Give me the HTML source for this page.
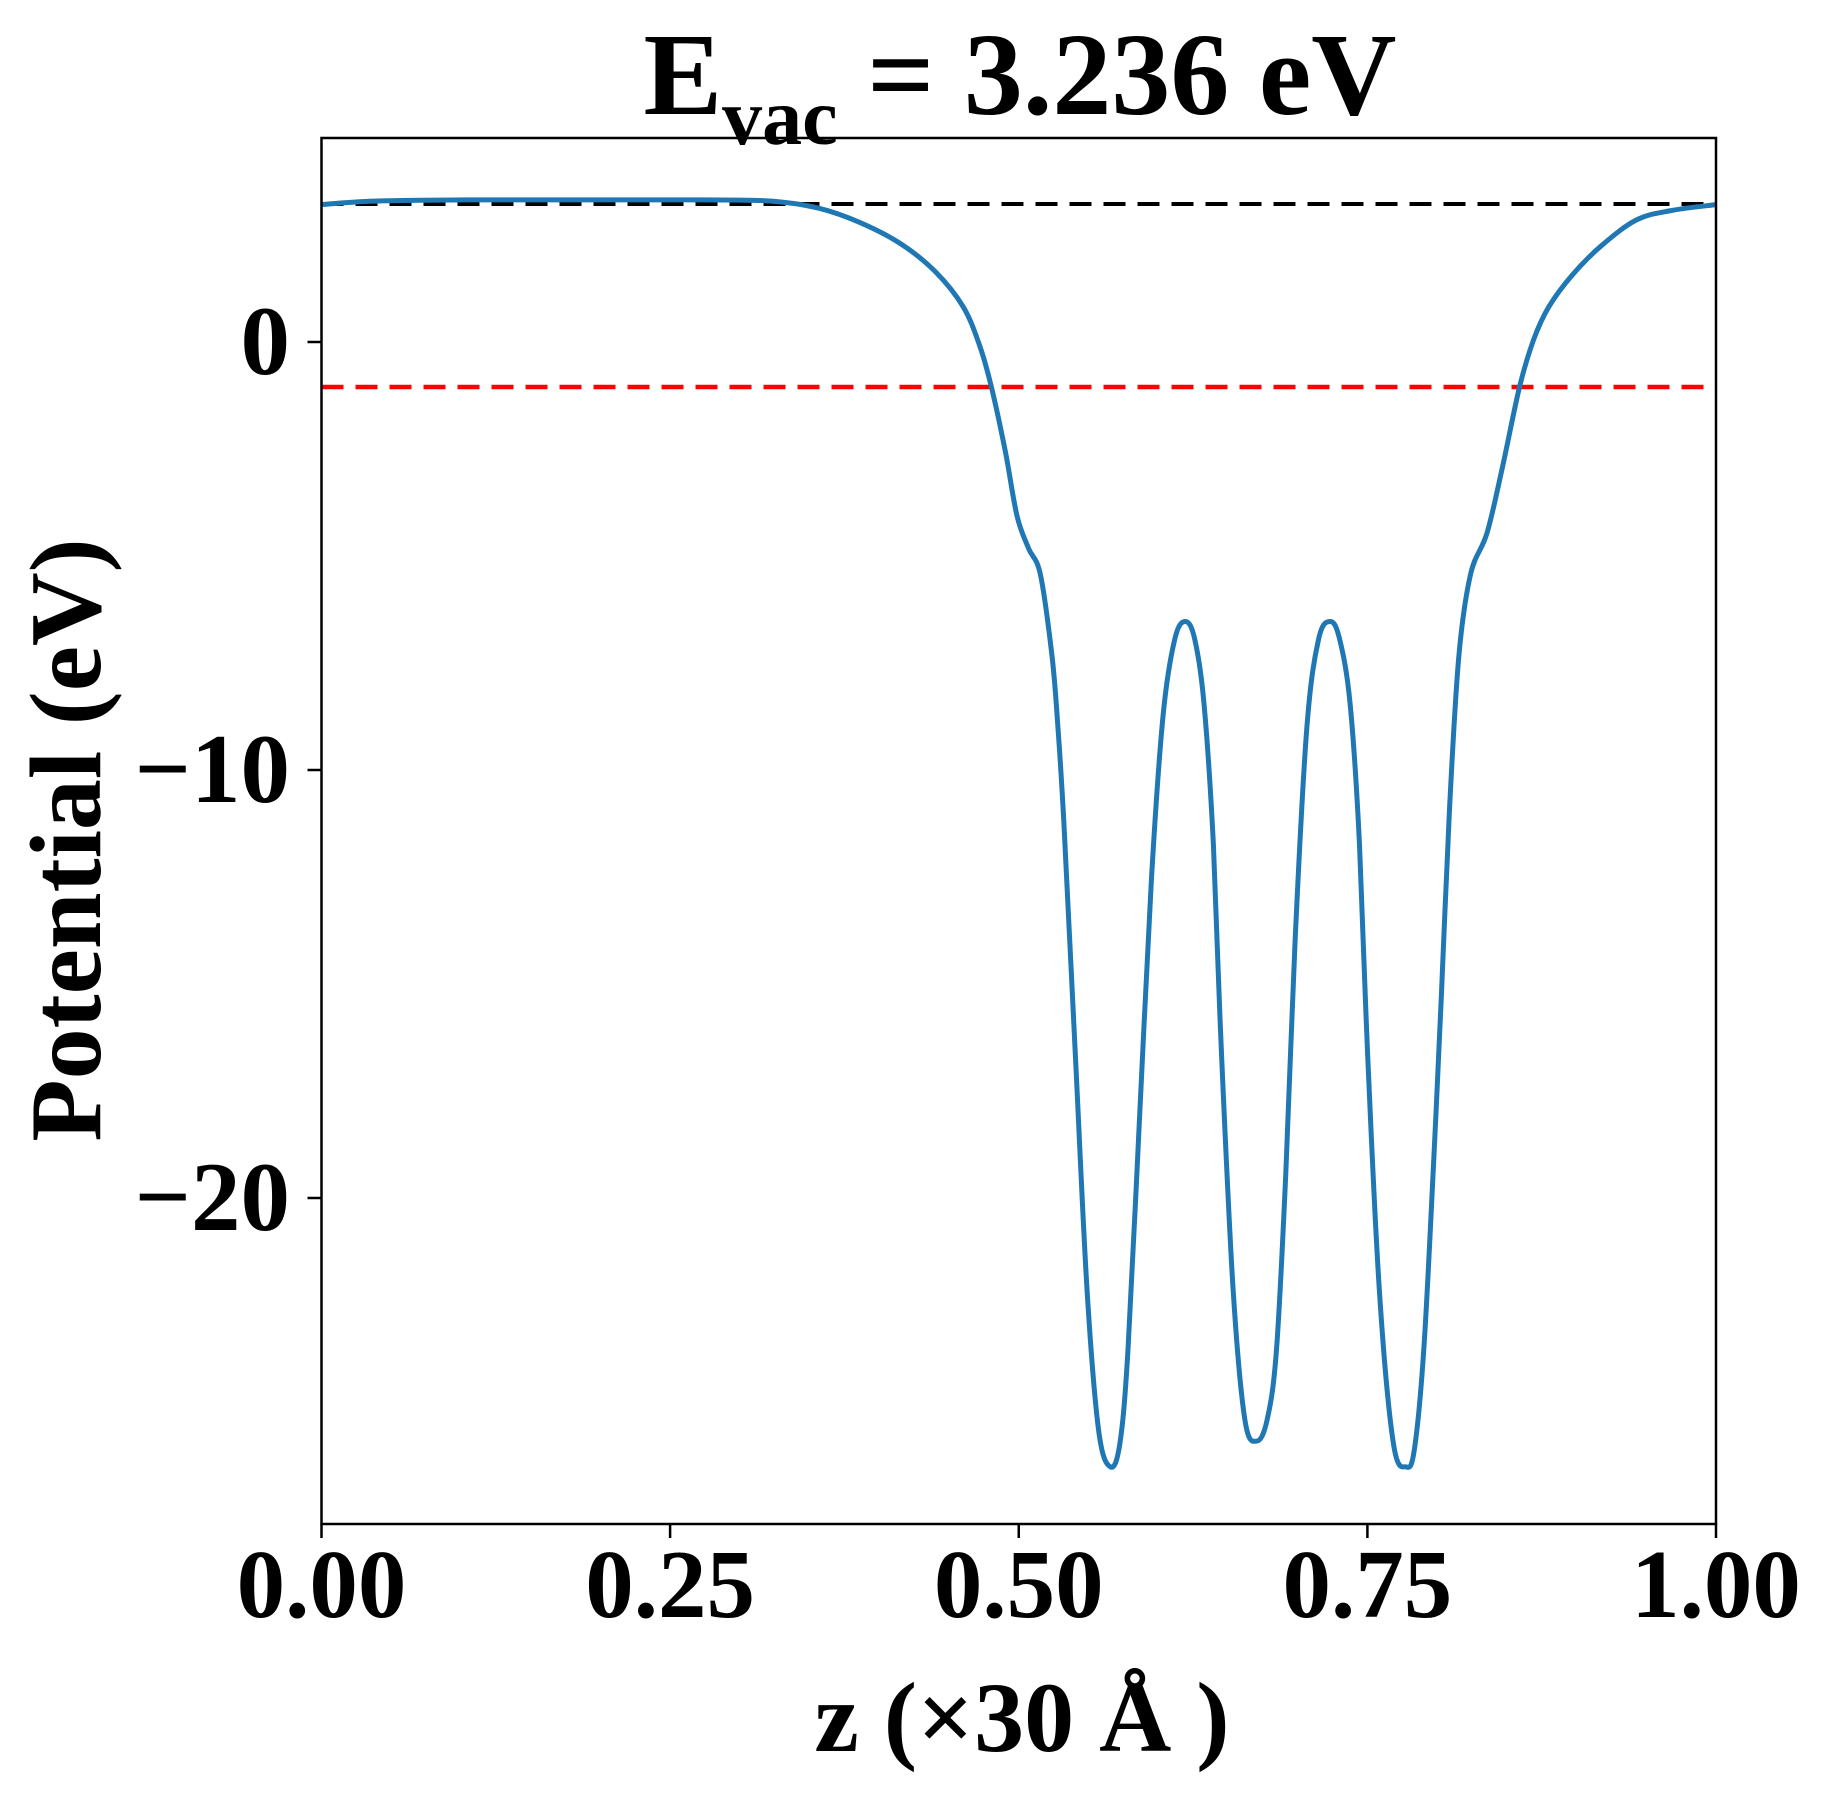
<!DOCTYPE html>
<html><head><meta charset="utf-8"><style>
html,body{margin:0;padding:0;background:#fff}
svg{display:block}
text{font-family:"Liberation Serif","Times New Roman",serif;font-weight:bold;fill:#000}
</style></head><body>
<svg id="s" width="1833" height="1794" viewBox="0 0 1833 1794" xmlns="http://www.w3.org/2000/svg">
<rect width="1833" height="1794" fill="#fff"/>
<line x1="321.5" y1="204" x2="1716" y2="204" stroke="#000" stroke-width="4" stroke-dasharray="22,12"/>
<line x1="321.5" y1="387" x2="1716" y2="387" stroke="#f00" stroke-width="4.5" stroke-dasharray="22,12"/>
<path id="curve" d="" fill="none" stroke="#1f77b4" stroke-width="5"/>
<rect x="321.5" y="138" width="1394.5" height="1386" fill="none" stroke="#000" stroke-width="2.5"/>
<g stroke="#000" stroke-width="2.5">
<line x1="321.5" y1="1524" x2="321.5" y2="1538"/>
<line x1="670.1" y1="1524" x2="670.1" y2="1538"/>
<line x1="1018.75" y1="1524" x2="1018.75" y2="1538"/>
<line x1="1367.4" y1="1524" x2="1367.4" y2="1538"/>
<line x1="1716" y1="1524" x2="1716" y2="1538"/>
<line x1="307.5" y1="342" x2="321.5" y2="342"/>
<line x1="307.5" y1="770" x2="321.5" y2="770"/>
<line x1="307.5" y1="1198" x2="321.5" y2="1198"/>
</g>
<g font-size="97" text-anchor="middle" font-family="Liberation Serif" font-weight="bold">
<text x="321.5" y="1617">0.00</text>
<text x="670.1" y="1617">0.25</text>
<text x="1018.75" y="1617">0.50</text>
<text x="1367.4" y="1617">0.75</text>
<text x="1716" y="1617">1.00</text>
</g>
<g font-size="99" text-anchor="end" font-family="Liberation Serif" font-weight="bold">
<text x="290" y="374">0</text>
<text x="290" y="802">−10</text>
<text x="290" y="1230">−20</text>
</g>
<text x="1022" y="1751" font-size="100" text-anchor="middle">z (×30 Å )</text>
<text transform="translate(100,840) rotate(-90)" font-size="102" text-anchor="middle">Potential (eV)</text>
<text x="1020" y="114" font-size="118" text-anchor="middle">E<tspan font-size="80" dy="30">vac</tspan><tspan dy="-30"> = 3.236 eV</tspan></text>
</svg>
<script>
var d=[[275,175],[320,172],[400,171],[500,171],[600,171],[660,172],[700,178],[735,190],[770,208],[800,232],[824,262],[838,295],[848,330],[860,385],[870,440],[880,468],[890,490],[900,560],[905,620],[910,700],[920,900],[930,1100],[940,1220],[950,1250],[958,1230],[965,1150],[975,950],[985,750],[995,610],[1005,545],[1014,530],[1022,545],[1030,600],[1038,720],[1045,900],[1055,1100],[1065,1210],[1075,1228],[1084,1210],[1092,1150],[1100,1000],[1108,800],[1118,620],[1128,545],[1138,530],[1146,545],[1155,600],[1163,720],[1170,900],[1180,1100],[1192,1230],[1203,1250],[1210,1235],[1218,1150],[1226,1000],[1233,850],[1240,690],[1248,560],[1258,490],[1272,455],[1285,400],[1300,330],[1312,290],[1325,262],[1345,235],[1370,210],[1400,188],[1430,180],[1468,175]];
var p=d.map(function(a){return [321.5+(a[0]-275)*1.1689,342+(a[1]-292)*1.1742];});
var s="M"+p[0][0].toFixed(1)+","+p[0][1].toFixed(1);
for(var i=0;i<p.length-1;i++){var p0=p[i-1]||p[i],p1=p[i],p2=p[i+1],p3=p[i+2]||p2;
s+=" C"+(p1[0]+(p2[0]-p0[0])/6).toFixed(1)+","+(p1[1]+(p2[1]-p0[1])/6).toFixed(1)+" "+(p2[0]-(p3[0]-p1[0])/6).toFixed(1)+","+(p2[1]-(p3[1]-p1[1])/6).toFixed(1)+" "+p2[0].toFixed(1)+","+p2[1].toFixed(1);}
document.getElementById("curve").setAttribute("d",s);
</script>
</body></html>
